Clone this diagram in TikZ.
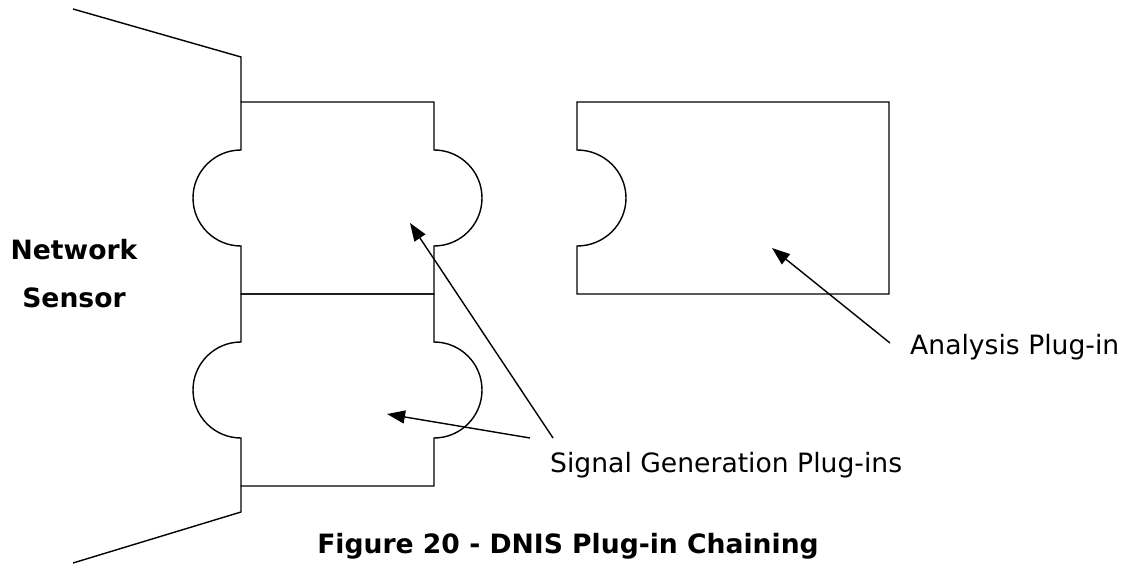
\documentclass[tikz,border=0pt]{standalone}
\usepackage{fontspec}
\setmainfont{DejaVu Sans}
\usetikzlibrary{arrows.meta}

\begin{document}
\begin{tikzpicture}[
    x=1pt, y=1pt,
    outline/.style={line width=1.4pt, line join=miter},
    pointer/.style={-{Triangle[length=18pt, width=13pt]}, line width=1.4pt},
    tag/.style={inner sep=0pt, font=\fontsize{26.6}{32}\selectfont},
    headtag/.style={tag, font=\fontsize{26.6}{32}\selectfont\bfseries}
  ]
  \useasboundingbox (0,0) rectangle (1127,-564);

  % sensor with two signal generation plug-ins
  \draw[outline] (73,-9) -- (241,-57) -- (241,-102);
  \draw[outline] (241,-486) -- (241,-512) -- (73,-563);
  \foreach \top in {102,294} {
    \draw[outline] (241,-\top) -- (434,-\top) -- (434,-\top-48)
      arc[start angle=90, end angle=-90, radius=48pt] -- (434,-\top-192)
      -- (241,-\top-192) -- (241,-\top-144)
      arc[start angle=270, end angle=90, radius=48pt] -- cycle;
  }

  % analysis plug-in
  \draw[outline] (577,-102) -- (889,-102) -- (889,-294) -- (577,-294) -- (577,-246)
    arc[start angle=-90, end angle=90, x radius=49pt, y radius=48pt] -- cycle;

  \node[headtag, anchor=base] (netword) at (74,-259) {Network};
  \node[headtag, anchor=base] (sensorword) at (74,-307) {Sensor};

  \node[tag, anchor=base west] (siglbl) at (550,-472) {Signal Generation Plug-ins};
  \node[tag, anchor=base west] (analbl) at (910,-354) {Analysis Plug-in};

  \node[headtag, anchor=base] (caption) at (568,-553) {Figure 20 - DNIS Plug-in Chaining};

  \coordinate (sgtipA) at (410,-223);
  \coordinate (sgtipB) at (387,-414);
  \coordinate (sgtailA) at (553,-438);
  \coordinate (sgtailB) at (530,-438);
  \coordinate (antip) at (772,-248);
  \coordinate (antail) at (890,-343);

  \draw[pointer] (sgtailA) -- (sgtipA);
  \draw[pointer] (sgtailB) -- (sgtipB);
  \draw[pointer] (antail) -- (antip);
\end{tikzpicture}
\end{document}
